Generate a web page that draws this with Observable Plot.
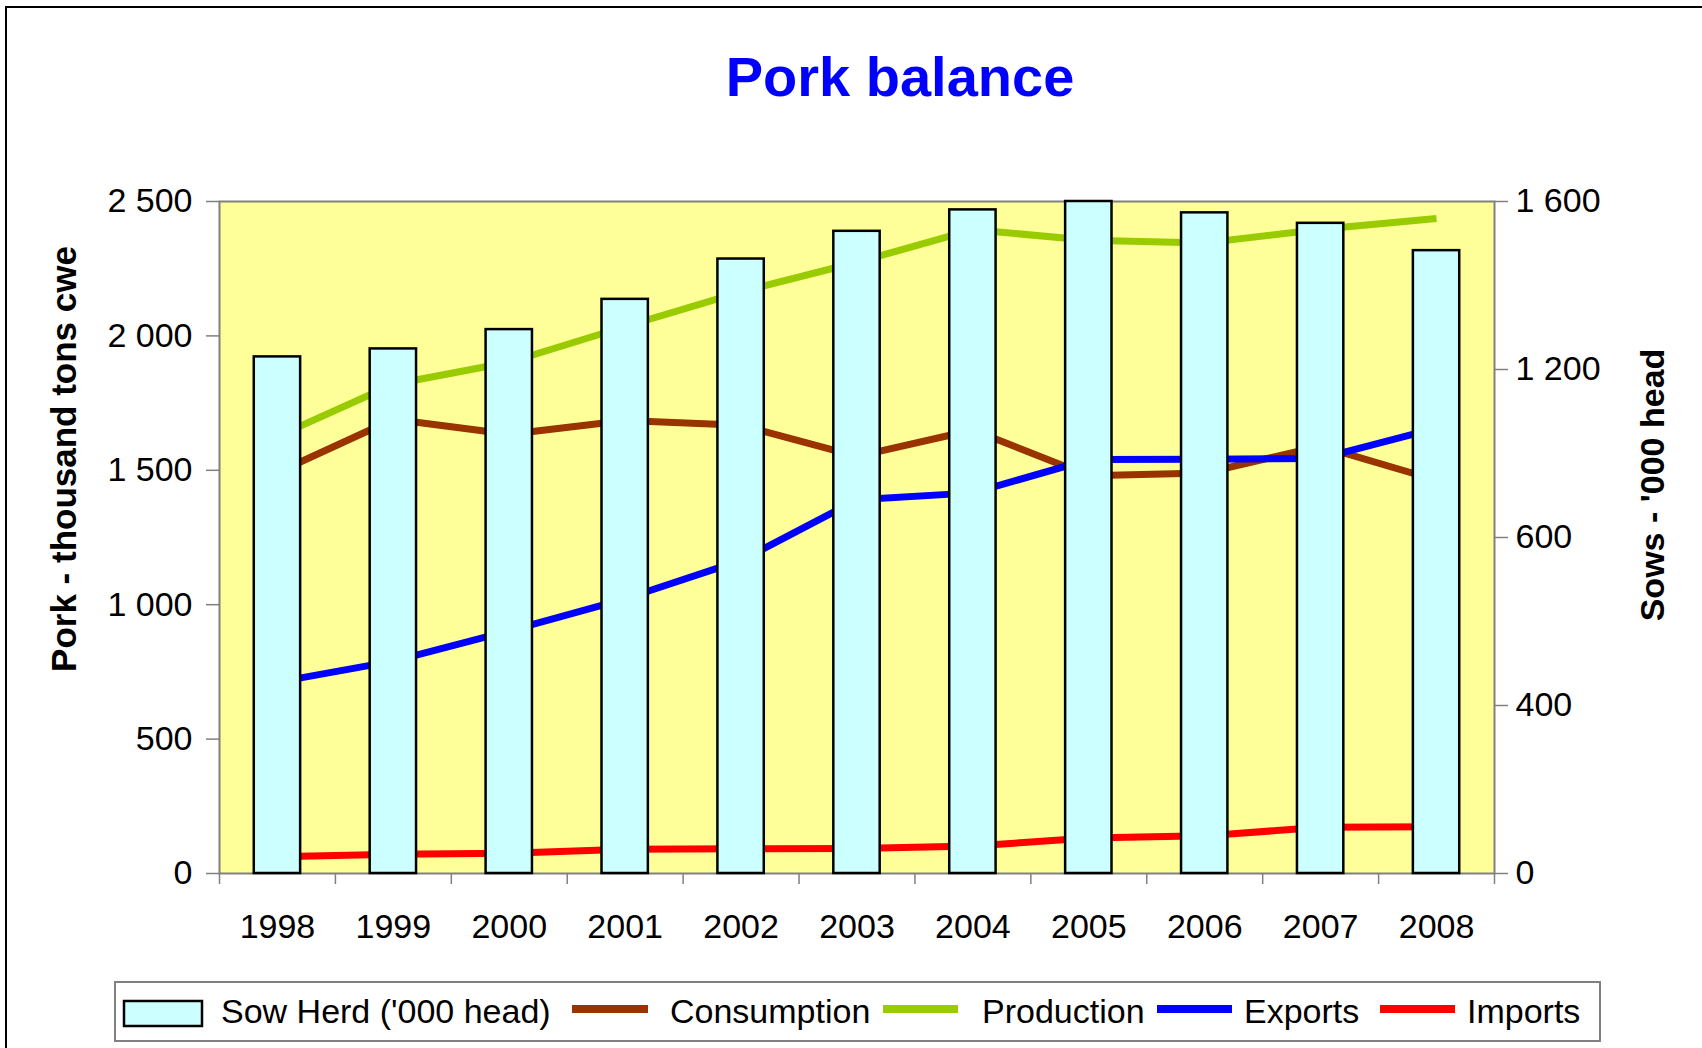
<!DOCTYPE html>
<html>
<head>
<meta charset="utf-8">
<script src="https://cdn.jsdelivr.net/npm/d3@7"></script>
<script src="https://cdn.jsdelivr.net/npm/@observablehq/plot@0.6"></script>
<style>
  html, body { margin: 0; padding: 0; background: #fff; }
  #wrap { position: relative; width: 1702px; height: 1048px; overflow: hidden; font-family: "Liberation Sans", Arial, sans-serif; }
  #wrap > svg { position: absolute; left: 0; top: 0; }
</style>
</head>
<body>
<div id="wrap"></div>
<script>
// ---- data ----
const years = [1998, 1999, 2000, 2001, 2002, 2003, 2004, 2005, 2006, 2007, 2008];
const sowHerd = [1230, 1249, 1295, 1367, 1463, 1529, 1580, 1600, 1573, 1548, 1483];
const consumption = [1492, 1690, 1634, 1685, 1668, 1552, 1650, 1480, 1490, 1590, 1463];
const production = [1626, 1820, 1902, 2035, 2164, 2274, 2395, 2356, 2346, 2397, 2437];
const exportVals = [712, 790, 903, 1022, 1165, 1390, 1416, 1540, 1541, 1544, 1657];
const importVals = [62, 72, 75, 90, 92, 93, 102, 132, 140, 172, 174];
const seriesNames = ["Consumption", "Production", "Exports", "Imports"];
const seriesColors = ["#993300", "#99CC00", "#0000FF", "#FF0000"];
const leftTicks = [0, 500, 1000, 1500, 2000, 2500];
const rightTickValues = [0, 400, 800, 1200, 1600];
const rightTickLabels = ["0", "400", "600", "1 200", "1 600"];
const titleText = "Pork balance";
const leftTitle = "Pork - thousand tons cwe";
const rightTitle = "Sows - '000 head";
const sowLabel = "Sow Herd ('000 head)";

// ---- layout ----
const W = 1702, H = 1048;
const mL = 219, mR = 208, mT = 201, mB = 175;
const leftMax = 2500, rightMax = 1600;
const k = leftMax / rightMax;
const step = (W - mL - mR) / years.length;
const font = '"Liberation Sans", Arial, sans-serif';

const seriesArrays = [consumption, production, exportVals, importVals];
const long = seriesNames.flatMap((s, j) => years.map((yr, i) => ({year: yr, series: s, value: seriesArrays[j][i]})));
const sowRows = years.map((yr, i) => ({year: yr, sow: sowHerd[i]}));

const fmtLeft = d => d3.format(",")(d).replace(/,/g, " ");
const fmtRight = d => rightTickLabels[rightTickValues.indexOf(Math.round(d / k))];
const fmtYear = d => String(d);

const chart = Plot.plot({
  width: W, height: H,
  marginLeft: mL, marginRight: mR, marginTop: mT, marginBottom: mB,
  style: {fontFamily: font, fontSize: "34px", color: "#000", background: "#fff", overflow: "visible"},
  x: {type: "band", domain: years, paddingInner: 0.6, paddingOuter: 0.3, round: false, axis: null},
  y: {domain: [0, leftMax], axis: null},
  color: {domain: seriesNames, range: seriesColors},
  marks: [
    Plot.frame({fill: "#FFFF99"}),
    Plot.line(long, {x: "year", y: "value", z: "series", stroke: "series", strokeWidth: 7, strokeLinejoin: "round", strokeLinecap: "butt"}),
    Plot.frame({stroke: "#808080", strokeWidth: 2}),
    Plot.barY(sowRows, {x: "year", y: d => d.sow * k, fill: "#CCFFFF", stroke: "#000", strokeWidth: 2.5}),
    Plot.axisY({anchor: "left", ticks: leftTicks, tickFormat: fmtLeft, tickSize: 13, tickPadding: 14, stroke: "#808080", strokeWidth: 1.5, fill: "#000", label: null}),
    Plot.axisY({anchor: "right", ticks: rightTickValues.map(v => v * k), tickFormat: fmtRight, tickSize: 13, tickPadding: 8, stroke: "#808080", strokeWidth: 1.5, fill: "#000", label: null}),
    Plot.axisX({tickSize: 0, tickPadding: 40, tickFormat: fmtYear, fill: "#000", label: null}),
    Plot.ruleX(years, {x: d => d, y1: 0, y2: 0, insetBottom: -11, dx: -step / 2, stroke: "#808080", strokeWidth: 1.5}),
    Plot.ruleX([years[years.length - 1]], {x: d => d, y1: 0, y2: 0, insetBottom: -11, dx: step / 2, stroke: "#808080", strokeWidth: 1.5})
  ]
});

const wrap = document.getElementById("wrap");
wrap.appendChild(chart);

// ---- overlay: border, title, axis titles, legend ----
const ns = "http://www.w3.org/2000/svg";
const ov = d3.create("svg").attr("xmlns", ns).attr("width", W).attr("height", H)
  .style("pointer-events", "none").style("font-family", font);

ov.append("rect").attr("x", 6).attr("y", 7).attr("width", 1800).attr("height", 1200)
  .attr("fill", "none").attr("stroke", "#000").attr("stroke-width", 2);

ov.append("text").attr("x", 900).attr("y", 96).attr("text-anchor", "middle")
  .attr("font-size", 56).attr("font-weight", "bold").attr("fill", "#0000FF").text(titleText);

ov.append("text").attr("transform", "translate(76,459) rotate(-90)").attr("text-anchor", "middle")
  .attr("font-size", 35).attr("font-weight", "bold").attr("fill", "#000").text(leftTitle);

ov.append("text").attr("transform", "translate(1664,485) rotate(-90)").attr("text-anchor", "middle")
  .attr("font-size", 34).attr("font-weight", "bold").attr("fill", "#000").text(rightTitle);

// legend
const lg = ov.append("g");
lg.append("rect").attr("x", 115).attr("y", 982).attr("width", 1485).attr("height", 59)
  .attr("fill", "#fff").attr("stroke", "#808080").attr("stroke-width", 2);
const baseY = 1023;
lg.append("rect").attr("x", 124).attr("y", 1001).attr("width", 78).attr("height", 25)
  .attr("fill", "#CCFFFF").attr("stroke", "#000").attr("stroke-width", 2.5);
lg.append("text").attr("x", 221).attr("y", baseY).attr("font-size", 34).attr("fill", "#000").text(sowLabel);
const swX = [[572, 648], [883, 958], [1157, 1232], [1380, 1455]];
const txX = [670, 982, 1244, 1467];
seriesNames.forEach((s, j) => {
  lg.append("line").attr("x1", swX[j][0]).attr("x2", swX[j][1]).attr("y1", 1009).attr("y2", 1009)
    .attr("stroke", seriesColors[j]).attr("stroke-width", 8);
  lg.append("text").attr("x", txX[j]).attr("y", baseY).attr("font-size", 34).attr("fill", "#000").text(s);
});

wrap.appendChild(ov.node());
</script>
</body>
</html>
